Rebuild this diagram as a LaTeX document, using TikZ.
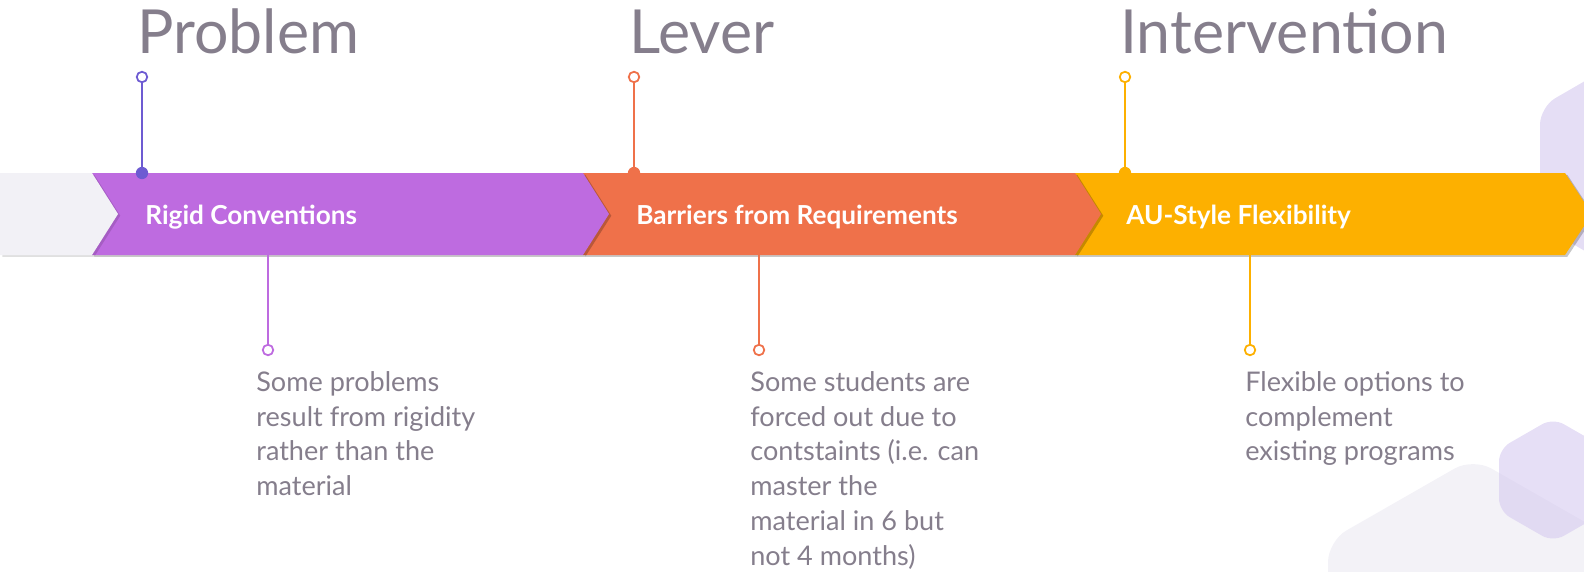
\documentclass[tikz,border=0pt]{standalone}
\usepackage{fontspec}
\setmainfont{Lato}
\usepackage{tikz}
\usetikzlibrary{positioning}
\definecolor{bandpurple}{HTML}{BE6BE0}
\definecolor{pinpurple}{HTML}{6D5BD2}
\definecolor{bandorange}{HTML}{EF714A}
\definecolor{bandyellow}{HTML}{FDB000}
\definecolor{bandgray}{HTML}{F2F1F6}
\definecolor{txtgray}{HTML}{857E8C}
\definecolor{hexlav}{HTML}{E5DEF5}
\definecolor{hexpale}{HTML}{F3F2F7}
\definecolor{hexmid}{HTML}{D6CAF0}
\tikzstyle{shade} = [fill=black, opacity=.22, xshift=1.3pt, yshift=-1pt]
\tikzstyle{head} = [anchor=base west, inner sep=0pt, text=txtgray, font=\fontsize{34.6}{40}\selectfont]
\tikzstyle{tag} = [anchor=base west, inner sep=0pt, text=white, font=\fontsize{14.9}{18}\selectfont\bfseries]
\tikzstyle{note} = [anchor=north west, inner sep=0pt, align=left, text=txtgray, font=\fontsize{15.4}{19.8}\selectfont]
\tikzstyle{stem} = [line width=1.1pt]
\tikzstyle{ring} = [draw, circle, fill=white, line width=1pt, inner sep=0pt, minimum size=6pt]
\tikzstyle{dot} = [circle, inner sep=0pt, minimum size=7pt]

\begin{document}
\begin{tikzpicture}[x=0.02cm, y=-0.02cm]
    \useasboundingbox (0,0) rectangle (1584,571);
    \clip (0,0) rectangle (1584,571);

    % background hexagons
    \fill [hexpale, rounded corners=12pt] (1473,458) -- (1328,541) -- (1328,708) -- (1473,792) -- (1618,708) -- (1618,541) -- cycle;
    \fill [hexmid, opacity=.6, rounded corners=7pt] (1553,418) -- (1499,449) -- (1499,511) -- (1553,542) -- (1607,511) -- (1607,449) -- cycle;
    \fill [hexlav, rounded corners=10pt] (1642,48) -- (1540,107) -- (1540,225) -- (1642,284) -- (1744,225) -- (1744,107) -- cycle;

    % band, drawn right to left so each tip lies on the next one
    \fill [shade] (1075,173) -- (1565,173) -- (1592,214) -- (1565,255) -- (1075,255) -- cycle;
    \fill [bandyellow] (1075,173) -- (1565,173) -- (1592,214) -- (1565,255) -- (1075,255) -- cycle;
    \fill [shade] (583,173) -- (1075,173) -- (1101,214) -- (1075,255) -- (583,255) -- cycle;
    \fill [bandorange] (583,173) -- (1075,173) -- (1101,214) -- (1075,255) -- (583,255) -- cycle;
    \fill [shade] (92,173) -- (583,173) -- (609,214) -- (583,255) -- (92,255) -- cycle;
    \fill [bandpurple] (92,173) -- (583,173) -- (609,214) -- (583,255) -- (92,255) -- cycle;
    \fill [shade, opacity=.12] (0,173) -- (92,173) -- (118,214) -- (92,255) -- (0,255) -- cycle;
    \fill [bandgray] (0,173) -- (92,173) -- (118,214) -- (92,255) -- (0,255) -- cycle;

    \node [tag] (rigid) at (145,224) {Rigid Conventions};
    \node [tag] (barriers) at (636,224) {Barriers from Requirements};
    \node [tag] (flex) at (1126,224) {AU-Style Flexibility};

    % headings
    \node [head] (problem) at (137,54) {Problem};
    \node [head] (lever) at (629,54) {Lever};
    \node [head] (intervention) at (1120,54) {Intervention};

    % pins above the band
    \node [ring, draw=pinpurple] (problempin) at (142,77) {};
    \node [dot, fill=pinpurple] (problemfoot) at (142,173) {};
    \draw [stem, pinpurple] (problempin) -- (problemfoot);
    \node [ring, draw=bandorange] (leverpin) at (634,77) {};
    \node [dot, fill=bandorange] (leverfoot) at (634,173) {};
    \draw [stem, bandorange] (leverpin) -- (leverfoot);
    \node [ring, draw=bandyellow] (interpin) at (1125,77) {};
    \node [dot, fill=bandyellow] (interfoot) at (1125,173) {};
    \draw [stem, bandyellow] (interpin) -- (interfoot);

    % pins below the band
    \coordinate (rigidfoot) at (268,255);
    \node [ring, draw=bandpurple] (rigidpin) at (268,350) {};
    \draw [stem, bandpurple] (rigidfoot) -- (rigidpin);
    \coordinate (barrierfoot) at (759,255);
    \node [ring, draw=bandorange] (barrierpin) at (759,350) {};
    \draw [stem, bandorange] (barrierfoot) -- (barrierpin);
    \coordinate (flexfoot) at (1250,255);
    \node [ring, draw=bandyellow] (flexpin) at (1250,350) {};
    \draw [stem, bandyellow] (flexfoot) -- (flexpin);

    % notes
    \node [note] (rigidnote) at (256,371) {Some problems\\result from rigidity\\rather than the\\material};
    \node [note] (barriernote) at (750,371) {Some students are\\forced out due to\\contstaints (i.e. can\\master the\\material in 6 but\\not 4 months)};
    \node [note] (flexnote) at (1245,371) {Flexible options to\\complement\\existing programs};

\end{tikzpicture}
\end{document}
